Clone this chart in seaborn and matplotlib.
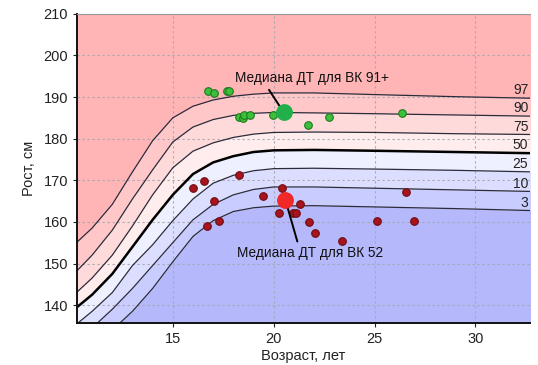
import numpy as np
import pandas as pd
import matplotlib
matplotlib.use("Agg")
import matplotlib.pyplot as plt
import seaborn as sns

# percentile curves (height, cm)
ages = [10, 11, 12, 13, 14, 15, 16, 17, 18, 19, 20, 22, 25, 29, 33]
p97 = [154.0, 158.5, 164.2, 172.0, 179.5, 185.0, 187.8, 189.3, 190.2, 190.7, 191.0, 191.0, 190.6, 190.1, 189.7]
p90 = [147.0, 152.0, 158.0, 165.5, 172.5, 179.2, 182.8, 184.6, 185.6, 186.1, 186.3, 186.2, 186.0, 185.7, 185.4]
p75 = [142.0, 146.5, 152.0, 159.0, 166.5, 173.0, 177.0, 179.0, 180.3, 181.1, 181.5, 181.6, 181.5, 181.2, 181.0]
p50 = [138.5, 142.5, 147.5, 154.0, 160.5, 166.5, 171.5, 174.3, 175.8, 176.8, 177.2, 177.3, 177.1, 176.8, 176.5]
p25 = [134.5, 138.5, 143.0, 149.5, 154.5, 160.3, 165.5, 169.3, 171.2, 172.3, 172.8, 172.9, 172.7, 172.4, 172.0]
p10 = [131.0, 134.5, 139.0, 144.0, 149.5, 155.0, 160.5, 164.2, 166.5, 167.8, 168.4, 168.4, 168.1, 167.7, 167.3]
p3 = [127.0, 130.5, 134.0, 138.5, 144.0, 150.4, 156.5, 160.3, 162.5, 163.4, 163.8, 163.9, 163.6, 163.2, 162.7]
pct_labels = ["97", "90", "75", "50", "25", "10", "3"]

# individual points
green_age = [16.73, 17.06, 17.69, 17.81, 18.27, 18.47, 18.55, 18.85, 19.99, 21.68, 22.72, 26.35]
green_h = [191.4, 191.0, 191.4, 191.4, 185.3, 184.9, 185.6, 185.6, 185.7, 183.2, 185.1, 186.2]
red_age = [16.0, 16.54, 17.03, 16.68, 17.31, 18.27, 19.46, 20.42, 20.25, 20.97, 21.1, 21.32,
           21.73, 22.06, 23.37, 25.1, 26.55, 26.93]
red_h = [168.1, 169.8, 165.1, 159.1, 160.1, 171.2, 166.2, 168.1, 162.2, 162.2, 162.2, 164.3,
         160.0, 157.3, 155.3, 160.2, 167.3, 160.2]
med_tall = (20.5, 186.3)
med_short = (20.58, 165.3)

sns.set_style("white")
plt.rcParams['font.family'] = ['Liberation Sans', 'DejaVu Sans']

xmin, xmax = 10.25, 32.7
ymin, ymax = 135.7, 210

fig = plt.figure(figsize=(5.38, 3.65), dpi=100)
ax = fig.add_axes([0.143, 0.115, 0.842, 0.847])

curves = [p97, p90, p75, p50, p25, p10, p3]
# band colours from top (above 97) to bottom (below 3)
band_colors = ['#FFB4B6', '#FFC7C8', '#FFDADA', '#FFEDED', '#EEEFFF',
               '#DCDEFF', '#C9CCFF', '#B5B8FA']
ax.fill_between(ages, p97, 220, color=band_colors[0], lw=0, zorder=0)
for i in range(len(curves) - 1):
    ax.fill_between(ages, curves[i + 1], curves[i], color=band_colors[i + 1], lw=0, zorder=0)
ax.fill_between(ages, 120, p3, color=band_colors[-1], lw=0, zorder=0)

df = pd.DataFrame({'age': ages * 7,
                   'h': sum(curves, []),
                   'pct': sum([[l] * len(ages) for l in pct_labels], [])})
for lab in pct_labels:
    sub = df[df.pct == lab]
    sns.lineplot(data=sub, x='age', y='h', ax=ax, color='black' if lab == '50' else '#2b2b3a',
                 lw=1.8 if lab == '50' else 0.9, legend=False, zorder=2)
    yend = np.interp(xmax, ages, sub.h)
    ax.text(xmax - 0.08, yend + 0.2, lab, ha='right', va='bottom', fontsize=10, color='#222222')

sns.scatterplot(x=green_age, y=green_h, ax=ax, color='#3CC03C', edgecolor='#1E7A1E',
                s=30, linewidth=0.8, zorder=3)
sns.scatterplot(x=red_age, y=red_h, ax=ax, color='#A8141E', edgecolor='#6E0C12',
                s=30, linewidth=0.8, zorder=3)
sns.scatterplot(x=[med_tall[0]], y=[med_tall[1]], ax=ax, color='#22B04A', edgecolor='#22B04A',
                s=125, zorder=4)
sns.scatterplot(x=[med_short[0]], y=[med_short[1]], ax=ax, color='#F02828', edgecolor='#F02828',
                s=125, zorder=4)

ax.annotate('Медиана ДТ для ВК 91+', xy=med_tall, xytext=(18.1, 194.5),
            ha='left', va='center', fontsize=9.8, color='#111111',
            arrowprops=dict(arrowstyle='-', color='black', lw=1.4, relpos=(0.2, 0.0),
                            shrinkA=1, shrinkB=5))
ax.annotate('Медиана ДТ для ВК 52', xy=med_short, xytext=(18.2, 152.5),
            ha='left', va='center', fontsize=9.8, color='#111111',
            arrowprops=dict(arrowstyle='-', color='black', lw=1.4, relpos=(0.42, 1.0),
                            shrinkA=1, shrinkB=5))

ax.set_xlim(xmin, xmax)
ax.set_ylim(ymin, ymax)
ax.set_xticks([15, 20, 25, 30])
ax.set_yticks(range(140, 211, 10))
ax.grid(True, ls=(0, (2, 2.5)), color='#a8a8b4', lw=0.8)
ax.tick_params(axis='both', labelsize=10.5, length=3, width=0.8, direction='out',
               left=True, bottom=True, colors='#222222')
ax.set_xlabel('Возраст, лет', fontsize=10.5, color='#222222', labelpad=2)
ax.set_ylabel('Рост, см', fontsize=10.5, color='#222222', labelpad=5)

for s in ['left', 'bottom']:
    ax.spines[s].set_color('#111111')
    ax.spines[s].set_linewidth(1.4)
ax.spines['top'].set_color('#999999')
ax.spines['top'].set_linewidth(0.8)
ax.spines['right'].set_visible(False)

fig.savefig('out.png', dpi=100)
